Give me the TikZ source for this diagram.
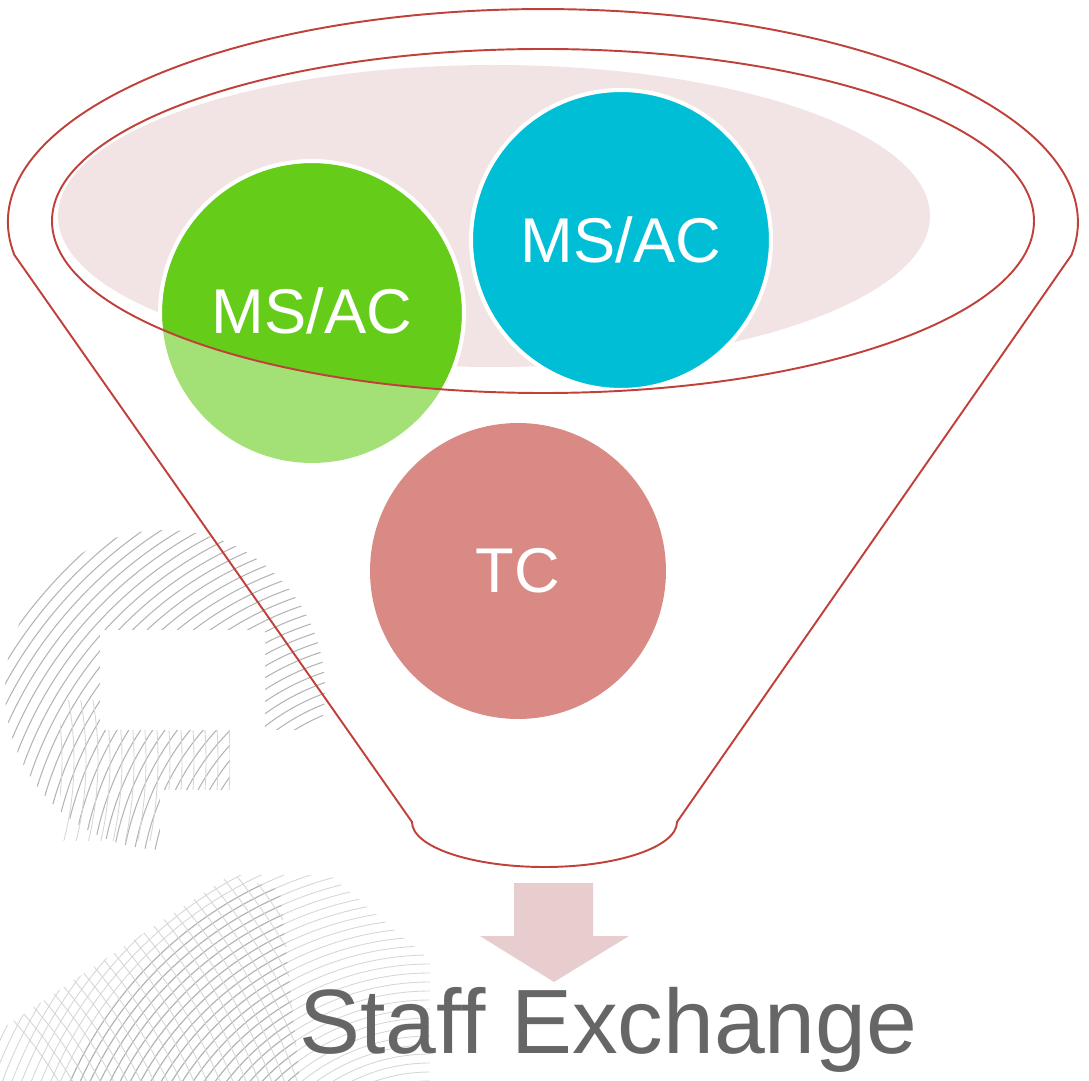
\documentclass[tikz,border=0pt]{standalone}
\usepackage{fontspec}
\setmainfont{Liberation Sans}
\definecolor{funred}{HTML}{C0413A}
\definecolor{pinkfill}{HTML}{F2E4E4}
\definecolor{greendark}{HTML}{66CC1A}
\definecolor{greenlight}{HTML}{A3E076}
\definecolor{cyanfill}{HTML}{00BED6}
\definecolor{tcfill}{HTML}{D98A85}
\definecolor{arrowfill}{HTML}{E8CDCE}
\definecolor{textgray}{HTML}{666666}
\definecolor{wmgray}{HTML}{B4B4B4}
\tikzset{
  wm/.style={draw=wmgray, line width=0.6pt},
  wmlight/.style={draw=wmgray!55, line width=0.5pt},
  funline/.style={draw=funred, line width=1.1pt},
  bubble/.style={circle, minimum size=6cm, inner sep=0pt, text=white, font=\fontsize{36}{40}\selectfont},
}
\begin{document}
\begin{tikzpicture}[x=0.02cm, y=-0.02cm]
\useasboundingbox (0,0) rectangle (1089,1081);
% watermark: upper blob
\begin{scope}
  \clip (165,690) circle[radius=160];
  \foreach \r in {200,210,...,470} \draw[wm] (400,900) circle[radius=\r];
\end{scope}
\begin{scope}
  \clip (60,700) rectangle (250,840);
  \foreach \r in {300,312,...,480} \draw[wmlight] (-250,760) circle[radius=\r];
\end{scope}
\fill[white] (100,630) rectangle (265,730);
\fill[white] (160,790) rectangle (280,860);
\fill[white] (230,730) rectangle (300,800);
% watermark: lower blob
\begin{scope}
  \clip (0,1030) -- (230,875) -- (330,875) -- (430,960) -- (430,1081) -- (0,1081) -- cycle;
  \foreach \r in {150,159,...,480} \draw[wmlight] (430,1240) circle[radius=\r];
\end{scope}
\begin{scope}
  \clip (0,1030) -- (230,875) -- (280,890) -- (300,1081) -- (0,1081) -- cycle;
  \foreach \r in {150,159,...,400} \draw[wm] (430,1240) circle[radius=\r];
  \foreach \r in {420,432,...,700} \draw[wmlight] (-300,1300) circle[radius=\r];
\end{scope}
% pink inner fill
\fill[pinkfill] (494,216) ellipse[x radius=436, y radius=151];
% circles
\node[bubble, fill=greenlight] (g) at (312,313) {};
\begin{scope}
  \clip (543,221) ellipse[x radius=491, y radius=172];
  \fill[greendark] (312,313) circle[radius=150];
  \draw[white, line width=2.3pt] (312,313) circle[radius=152];
\end{scope}
\node[bubble] (gt) at (312,311) {MS/AC};
\node[bubble, fill=cyanfill, draw=white, line width=2.3pt] (c) at (621,240) {MS/AC};
\node[bubble, minimum size=5.92cm, fill=tcfill] (tc) at (518,571) {TC};
% funnel outlines
\draw[funline] (412,822) -- (14.4,255)
  arc[start angle=171.1, end angle=368.9, x radius=535, y radius=213]
  -- (677,822)
  arc[start angle=0, end angle=180, x radius=132.5, y radius=45] -- cycle;
\draw[funline] (543,221) ellipse[x radius=491, y radius=172];
% arrow
\fill[arrowfill] (514,883) -- (593,883) -- (593,936) -- (629,936) -- (554,982) -- (480,936) -- (514,936) -- cycle;
\node[anchor=base, text=textgray, font=\fontsize{52}{60}\selectfont, inner sep=0pt] (se) at (608.5,1053) {Staff Exchange};
\end{tikzpicture}
\end{document}
